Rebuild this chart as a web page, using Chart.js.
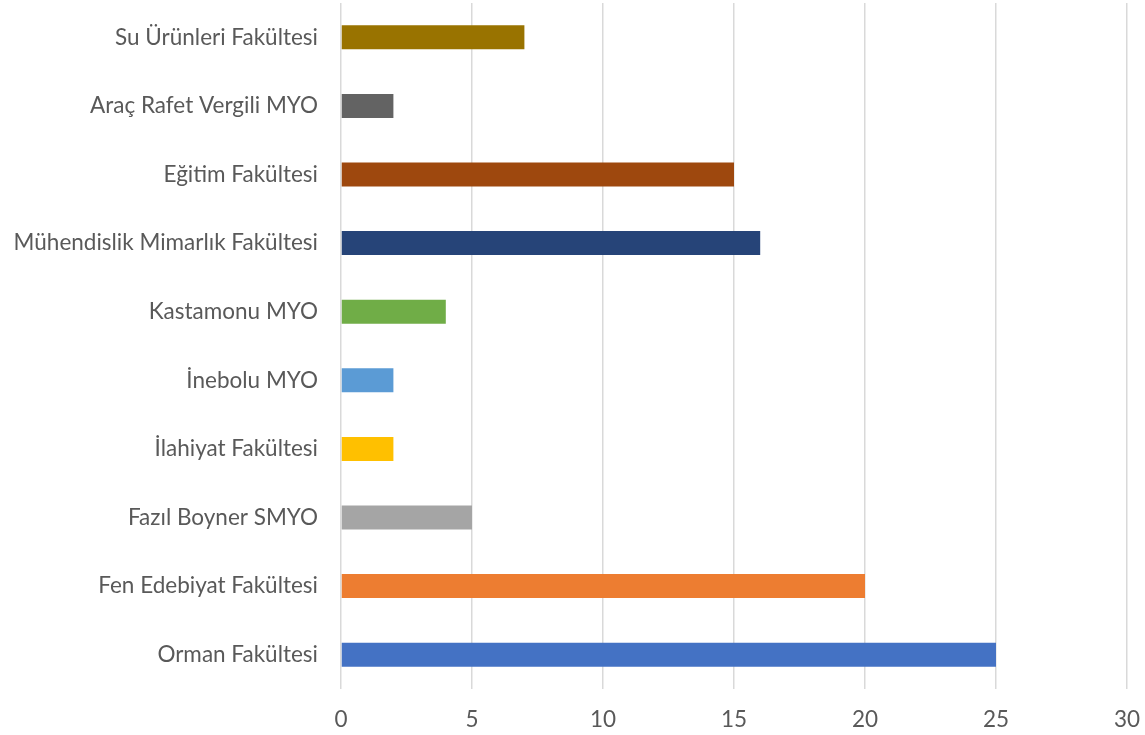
<!DOCTYPE html>
<html><head><meta charset="utf-8">
<script src="https://cdn.jsdelivr.net/npm/chart.js@4/dist/chart.umd.min.js"></script>
<style>html,body{margin:0;padding:0;background:#fff}#wrap{width:1145px;height:735px}</style>
</head><body><div id="wrap"><canvas id="c" width="1145" height="735"></canvas></div>
<script>
const categories = ["Su Ürünleri Fakültesi","Araç Rafet Vergili MYO","Eğitim Fakültesi","Mühendislik Mimarlık Fakültesi","Kastamonu MYO","İnebolu MYO","İlahiyat Fakültesi","Fazıl Boyner SMYO","Fen Edebiyat Fakültesi","Orman Fakültesi"];
const values = [7,2,15,16,4,2,2,5,20,25];
const barColors = ["#997300","#636363","#9E480E","#264478","#70AD47","#5B9BD5","#FFC000","#A5A5A5","#ED7D31","#4472C4"];
const xTicks = [0,5,10,15,20,25,30];

function zeroPad(s){ s.paddingTop = 0; s.paddingBottom = 0; s.paddingLeft = 0; s.paddingRight = 0; }

new Chart(document.getElementById('c'), {
  type: 'bar',
  data: { labels: categories, datasets: [{ data: values, backgroundColor: barColors, barPercentage: 0.35, categoryPercentage: 1 }] },
  options: {
    indexAxis: 'y', responsive: false, animation: false,
    layout: { padding: { top: 3, right: 18, left: 0, bottom: 0 } },
    plugins: { legend: { display: false }, tooltip: { enabled: false } },
    scales: {
      x: { min: 0, max: 30, afterBuildTicks: s => { s.ticks = xTicks.map(v => ({ value: v })); },
        grid: { color: '#D9D9D9', lineWidth: 1.5, drawTicks: false },
        border: { display: false },
        ticks: { color: '#595959', font: { family: 'Lato', size: 22.5 }, padding: 17, maxRotation: 0 },
        afterFit: s => { s.height = 46; zeroPad(s); } },
      y: { grid: { display: false, drawTicks: false }, border: { display: false },
        ticks: { color: '#595959', font: { family: 'Lato', size: 22.5 }, padding: 23 },
        afterFit: s => { s.width = 341; zeroPad(s); } }
    }
  }
});
</script></body></html>
